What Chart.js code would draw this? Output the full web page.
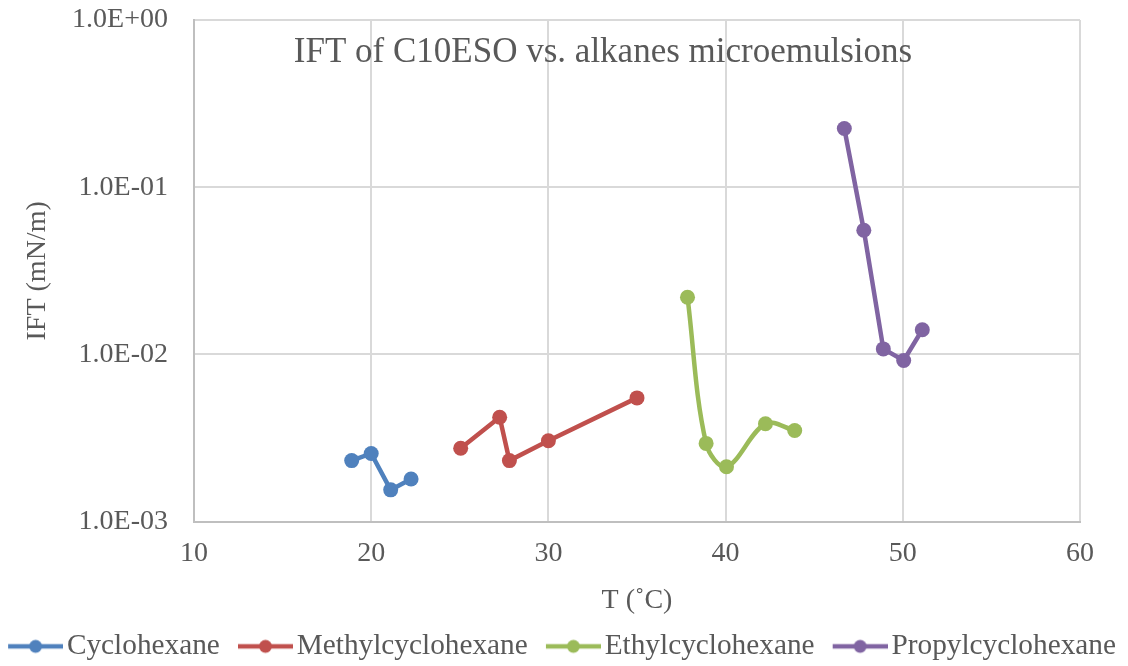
<!DOCTYPE html>
<html>
<head>
<meta charset="utf-8">
<script src="https://cdn.jsdelivr.net/npm/chart.js@4.4.1/dist/chart.umd.min.js"></script>
<style>
  html, body { margin: 0; padding: 0; background: #fff; }
  #wrap { width: 1128px; height: 666px; }
</style>
</head>
<body>
<div id="wrap"><canvas id="ChartIFT"></canvas></div>
<script>
// values
const seriesNames = ['Cyclohexane', 'Methylcyclohexane', 'Ethylcyclohexane', 'Propylcyclohexane'];
const seriesColors = ['#4F81BD', '#C0504D', '#9BBB59', '#8064A2'];

const cycloT = [18.9, 20.0, 21.1, 22.25];
const cycloIFT = [0.00232, 0.00256, 0.00155, 0.0018];

const methylT = [25.05, 27.25, 27.8, 30.0, 35.0];
const methylIFT = [0.00275, 0.00421, 0.00232, 0.00305, 0.0055];

const ethylT = [37.85, 38.9, 40.05, 42.25, 43.9];
const ethylIFT = [0.022, 0.00294, 0.00213, 0.00385, 0.00351];

const propylT = [46.7, 47.8, 48.9, 50.05, 51.1];
const propylIFT = [0.2246, 0.0553, 0.0108, 0.0092, 0.01406];

const xTicks = [10, 20, 30, 40, 50, 60];
const yTicks = [0.001, 0.01, 0.1, 1];
const yTickLabels = ['1.0E-03', '1.0E-02', '1.0E-01', '1.0E+00'];

const chartTitle = 'IFT of C10ESO vs. alkanes microemulsions';
const textColor = '#595959';
const gridColor = '#d9d9d9';

Chart.defaults.font.family = "'Liberation Serif', 'Times New Roman', serif";
Chart.defaults.color = textColor;

const toPoints = (xs, ys) => xs.map((x, i) => ({ x: x, y: ys[i] }));
const allSeries = [
  toPoints(cycloT, cycloIFT),
  toPoints(methylT, methylIFT),
  toPoints(ethylT, ethylIFT),
  toPoints(propylT, propylIFT),
];

// line + dot marker for the legend; left part of the canvas is blank so
// the gap between items comes from here and the marker hugs its text
function legendMarker(color) {
  const c = document.createElement('canvas');
  c.width = 84;
  c.height = 18;
  const g = c.getContext('2d');
  g.strokeStyle = color;
  g.lineWidth = 4.5;
  g.beginPath();
  g.moveTo(29, 9);
  g.lineTo(84, 9);
  g.stroke();
  g.fillStyle = color;
  g.beginPath();
  g.arc(56.5, 9, 6.5, 0, Math.PI * 2);
  g.fill();
  return c;
}
const markers = seriesColors.map(legendMarker);

const innerTitle = {
  id: 'innerTitle',
  afterDraw(chart) {
    const ctx = chart.ctx;
    ctx.save();
    ctx.font = "35px 'Liberation Serif', serif";
    ctx.fillStyle = textColor;
    ctx.textAlign = 'center';
    ctx.textBaseline = 'middle';
    ctx.fillText(chartTitle, 603, 53);
    ctx.restore();
  },
};

const context = document.getElementById('ChartIFT').getContext('2d');

new Chart(context, {
  type: 'scatter',
  data: {
    datasets: allSeries.map((pts, i) => ({
      label: seriesNames[i],
      data: pts,
      showLine: true,
      borderColor: seriesColors[i],
      backgroundColor: seriesColors[i],
      borderWidth: 4.5,
      pointRadius: 7.5,
      pointHoverRadius: 7.5,
      pointBorderWidth: 0,
      tension: i === 2 ? 0.35 : 0,
    })),
  },
  options: {
    responsive: true,
    maintainAspectRatio: false,
    animation: false,
    layout: { padding: { left: -10, right: 0, top: 20, bottom: -5 } },
    plugins: {
      tooltip: { enabled: false },
      legend: {
        position: 'bottom',
        align: 'start',
        labels: {
          usePointStyle: true,
          pointStyleWidth: 62.25,
          padding: 0,
          color: textColor,
          font: { size: 29.3 },
          generateLabels(chart) {
            const items = Chart.defaults.plugins.legend.labels.generateLabels(chart);
            items.forEach((item, i) => { item.pointStyle = markers[i]; });
            return items;
          },
        },
      },
    },
    scales: {
      x: {
        type: 'linear',
        min: 10,
        max: 60,
        afterBuildTicks: (scale) => { scale.ticks = xTicks.map((v) => ({ value: v })); },
        afterFit: (scale) => {
          scale.height = 110;
          scale.paddingRight = 48;
        },
        grid: { color: gridColor, lineWidth: 2, drawTicks: false },
        border: { color: '#bfbfbf', width: 2 },
        ticks: { padding: 15, font: { size: 28 }, color: textColor },
        title: {
          display: true,
          text: 'T (˚C)',
          font: { size: 28 },
          color: textColor,
          padding: { top: 0, bottom: 14 },
        },
      },
      y: {
        type: 'logarithmic',
        min: 0.001,
        max: 1,
        afterBuildTicks: (scale) => { scale.ticks = yTicks.map((v) => ({ value: v })); },
        afterFit: (scale) => {
          scale.width = 204;
          scale.paddingTop = 20;
          scale.paddingBottom = 0;
        },
        grid: { color: gridColor, lineWidth: 2, drawTicks: false },
        border: { color: '#bfbfbf', width: 2 },
        ticks: {
          padding: 26,
          font: { size: 28 },
          color: textColor,
          callback: (value) => yTickLabels[yTicks.indexOf(value)] ?? '',
        },
        title: {
          display: true,
          text: 'IFT (mN/m)',
          font: { size: 28 },
          color: textColor,
          padding: { top: 31, bottom: 0 },
        },
      },
    },
  },
  plugins: [innerTitle],
});
</script>
</body>
</html>
